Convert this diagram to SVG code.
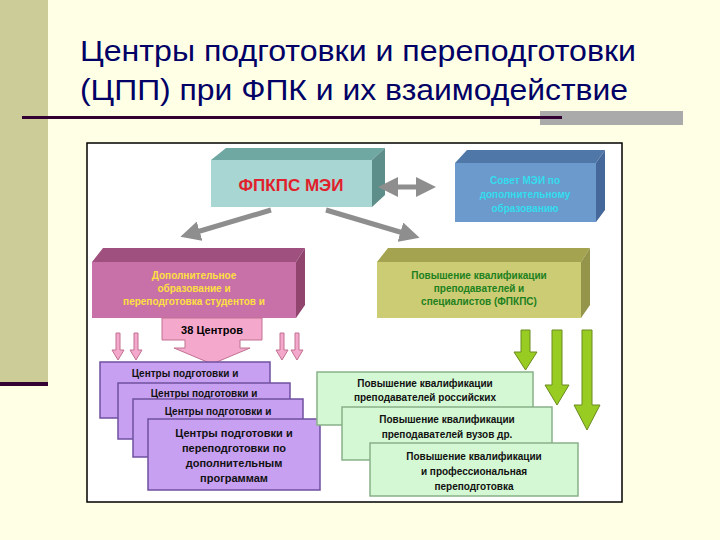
<svg xmlns="http://www.w3.org/2000/svg" width="720" height="540" viewBox="0 0 720 540">
<defs>
<style>
.t{font-family:"Liberation Sans",Arial,sans-serif;font-weight:bold;text-anchor:middle}
.pu{fill:#C8A0F2;stroke:#7050A0;stroke-width:1.5}
.gr{fill:#D4F8D4;stroke:#88B088;stroke-width:1.5}
.pa{fill:#F4A8CC;stroke:#C07090;stroke-width:1}
.ga{fill:#99CC22;stroke:#6A8A20;stroke-width:1}
.con{stroke:#8E8E8E;stroke-width:5;fill:none}
</style>
<marker id="ah" viewBox="0 0 10 10" refX="5" refY="5" markerWidth="4" markerHeight="4" orient="auto-start-reverse"><path d="M0,0L10,5L0,10z" fill="#8E8E8E"/></marker>
</defs>
<rect width="720" height="540" fill="#FFFFE5"/>
<rect x="0" y="0" width="48" height="382" fill="#CCCC99"/>
<rect x="0" y="382" width="48" height="4" fill="#330033"/>
<text x="80" y="61" font-family="Liberation Sans,Arial,sans-serif" font-size="30" fill="#000066" textLength="556" lengthAdjust="spacingAndGlyphs">Центры подготовки и переподготовки</text>
<text x="80" y="100" font-family="Liberation Sans,Arial,sans-serif" font-size="30" fill="#000066" textLength="548" lengthAdjust="spacingAndGlyphs">(ЦПП) при ФПК и их взаимодействие</text>
<rect x="540" y="111" width="143" height="14" fill="#AAAAAA"/>
<rect x="22" y="116" width="540" height="3" fill="#330033"/>
<rect x="87" y="143" width="535" height="359" fill="#FFFFFF" stroke="#000" stroke-width="1.5"/>

<g id="fpkps">
<polygon points="211,160 226,148 385,148 372,160" fill="#6FA8A2"/>
<polygon points="372,160 385,148 385,195 372,207" fill="#5D8E8A"/>
<rect x="211" y="160" width="161" height="47" fill="#A8D6D2"/>
<text class="t" x="291" y="191" font-size="17" fill="#E0202A">ФПКПС МЭИ</text>
</g>
<g id="sovet">
<polygon points="455,163 467,150 605,150 596,163" fill="#4F78A8"/>
<polygon points="596,163 605,150 605,210 596,222" fill="#44689A"/>
<rect x="455" y="163" width="141" height="59" fill="#6C9ACC"/>
<text class="t" x="525" y="184" font-size="10" fill="#33DDEE">Совет МЭИ по</text>
<text class="t" x="525" y="198" font-size="10" fill="#33DDEE">дополнительному</text>
<text class="t" x="525" y="212" font-size="10" fill="#33DDEE">образованию</text>
</g>
<g id="dop">
<polygon points="92,262 103,248 305,248 296,262" fill="#A0507E"/>
<polygon points="296,262 305,248 305,305 296,318" fill="#90446E"/>
<rect x="92" y="262" width="204" height="56" fill="#C870A8"/>
<text class="t" x="194" y="279" font-size="10" fill="#FFE040">Дополнительное</text>
<text class="t" x="194" y="292" font-size="10" fill="#FFE040">образование и</text>
<text class="t" x="194" y="305" font-size="10" fill="#FFE040">переподготовка студентов и</text>
</g>
<g id="pov">
<polygon points="377,262 388,248 590,248 581,262" fill="#A4A450"/>
<polygon points="581,262 590,248 590,305 581,318" fill="#94944A"/>
<rect x="377" y="262" width="204" height="56" fill="#CCCC74"/>
<text class="t" x="479" y="279" font-size="10" fill="#208020">Повышение квалификации</text>
<text class="t" x="479" y="292" font-size="10" fill="#208020">преподавателей и</text>
<text class="t" x="479" y="305" font-size="10" fill="#208020">специалистов (ФПКПС)</text>
</g>
<g id="c38">
<polygon class="pa" points="162,318 262,318 262,340 240,340 240,348 250,348 212,364 174,348 185,348 185,340 162,340"/>
<text class="t" x="212" y="334" font-size="11" fill="#000">38 Центров</text>
</g>
<g id="pinkArrows">
<polygon class="pa" points="116,333 120,333 120,350 124,350 118,360 112,350 116,350"/>
<polygon class="pa" points="134,333 138,333 138,350 142,350 136,360 130,350 134,350"/>
<polygon class="pa" points="280,333 284,333 284,350 288,350 282,360 276,350 280,350"/>
<polygon class="pa" points="295,333 299,333 299,350 303,350 297,360 291,350 295,350"/>
</g>
<g id="cpp1"><rect class="pu" x="100" y="362" width="170" height="56"/>
<text class="t" x="185" y="377" font-size="10" fill="#111">Центры подготовки и</text></g>
<g id="cpp2"><rect class="pu" x="118" y="383" width="172" height="56"/>
<text class="t" x="204" y="397" font-size="10" fill="#111">Центры подготовки и</text></g>
<g id="cpp3"><rect class="pu" x="133" y="399" width="170" height="58"/>
<text class="t" x="218" y="415" font-size="10" fill="#111">Центры подготовки и</text></g>
<g id="cpp4"><rect class="pu" x="148" y="419" width="172" height="71"/>
<text class="t" x="234" y="437" font-size="11" fill="#111">Центры подготовки и</text>
<text class="t" x="234" y="452" font-size="11" fill="#111">переподготовки  по</text>
<text class="t" x="234" y="467" font-size="11" fill="#111">дополнительным</text>
<text class="t" x="234" y="482" font-size="11" fill="#111">программам</text></g>

<g id="greenArrows">
<polygon class="ga" points="521,330 530,330 530,352 537,352 525.5,370 514,352 521,352"/>
<polygon class="ga" points="552,330 562,330 562,385 569,385 557,405 545,385 552,385"/>
<polygon class="ga" points="582,330 592,330 592,405 600,405 587,430 574,405 582,405"/>
</g>
<g id="pk1"><rect class="gr" x="317" y="372" width="216" height="53"/>
<text class="t" x="425" y="387" font-size="10" fill="#111">Повышение квалификации</text>
<text class="t" x="425" y="401" font-size="10" fill="#111">преподавателей российских</text></g>
<g id="pk2"><rect class="gr" x="342" y="407" width="210" height="53"/>
<text class="t" x="447" y="423" font-size="10" fill="#111">Повышение квалификации</text>
<text class="t" x="447" y="438" font-size="10" fill="#111">преподавателей вузов др.</text></g>
<g id="pk3"><rect class="gr" x="370" y="443" width="208" height="53"/>
<text class="t" x="474" y="460" font-size="10" fill="#111">Повышение квалификации</text>
<text class="t" x="474" y="475" font-size="10" fill="#111">и профессиональная</text>
<text class="t" x="474" y="490" font-size="10" fill="#111">переподготовка</text></g>

<g id="connectors">
<line class="con" x1="388" y1="187" x2="426" y2="187" marker-start="url(#ah)" marker-end="url(#ah)"/>
<line class="con" x1="271" y1="210" x2="190" y2="234" marker-end="url(#ah)"/>
<line class="con" x1="326" y1="210" x2="410" y2="235" marker-end="url(#ah)"/>
</g>
</svg>
